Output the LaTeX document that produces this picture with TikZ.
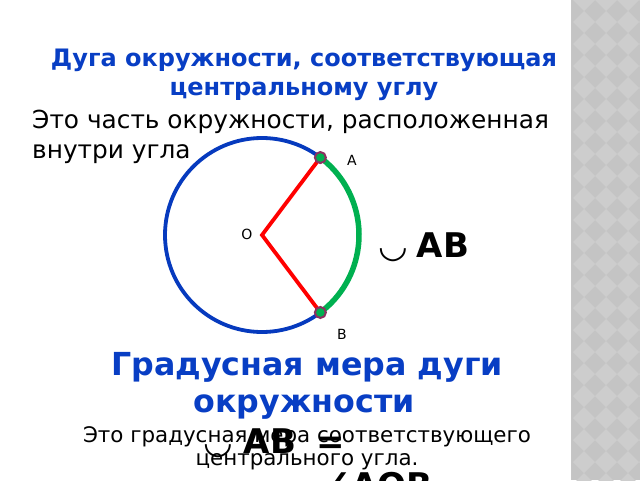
\documentclass[tikz,border=0pt]{standalone}
\usepackage{fontspec}
\setmainfont{DejaVu Sans}
\usepackage{tikz}

\definecolor{titleblue}{RGB}{8,62,196}
\definecolor{circblue}{RGB}{6,58,190}
\definecolor{arcgreen}{RGB}{0,176,80}
\definecolor{dotrim}{RGB}{140,48,96}
\definecolor{stripgray}{RGB}{196,196,196}
\definecolor{diagray}{RGB}{205,205,205}

\begin{document}
\begin{tikzpicture}[x=1pt, y=-1pt, every node/.style={inner sep=0pt},
                    head/.style={text=titleblue, anchor=base,
                            font=\bfseries\fontsize{24}{24}\selectfont},
                    headbig/.style={text=titleblue, anchor=base,
                            font=\bfseries\fontsize{31.7}{31.7}\selectfont},
                    body/.style={anchor=base west,
                            font=\fontsize{24.8}{24.8}\selectfont},
                    note/.style={anchor=base,
                            font=\fontsize{21.4}{21.4}\selectfont},
                    big/.style={anchor=base west,
                            font=\bfseries\fontsize{34}{34}\selectfont},
                    lbl/.style={font=\fontsize{14}{14}\selectfont},
                    pt/.style={circle, fill=arcgreen, draw=dotrim,
                            line width=2pt, minimum size=11pt}]
    \useasboundingbox (0,0) rectangle (640,480);
    \fill[white] (0,0) rectangle (640,480);

    % side strip
    \begin{scope}
        \clip (571,0) rectangle (640,480);
        \fill[stripgray] (571,0) rectangle (640,480);
        \foreach \i in {0,...,3} {
                \foreach \j in {0,...,22} {
                        \fill[diagray] (584+22*\i, 22*\j) ++(-11,0) -- ++(11,-11)
                            -- ++(11,11) -- ++(-11,11) -- cycle;
                    }
            }
    \end{scope}
    \draw[gray!45, line width=1pt] (571,0) -- (571,480);

    % texts
    \node[head] (T1) at (304,66) {Дуга окружности, соответствующая};
    \node[head] (T2) at (304,95) {центральному углу};
    \node[body] (S1) at (32,128) {Это часть окружности, расположенная};
    \node[body] (S2) at (32,158) {внутри угла};

    % circle
    \coordinate (O) at (262,235);
    \path (O) ++(-53:97) coordinate (A);
    \path (O) ++(53:97) coordinate (B);
    \draw[circblue, line width=3.8pt] (O) circle (97);
    \draw[arcgreen, line width=5.5pt] (O) ++(-53:97) arc (-53:53:97);
    \draw[red, line width=3.8pt] (A) -- (O) -- (B);
    \node[pt] (PA) at (A) {};
    \node[pt] (PB) at (B) {};
    \node[lbl] (LA) at (352,160) {A};
    \node[lbl] (LO) at (247,234) {O};
    \node[lbl] (LB) at (342,334) {B};
    \node[big] (ArcAB) at (378,257) {{\mdseries ◡}\hspace{9pt}AB};

    % degree measure
    \node[headbig] (H1) at (307,375) {Градусная мера дуги};
    \node[headbig] (H2) at (304,412) {окружности};
    \node[note] (N1) at (307,442) {Это градусная мера соответствующего};
    \node[note] (N2) at (307,465) {центрального угла.};
    \node[big] (Eq) at (203,453) {{\mdseries ◡}\hspace{11pt}AB\hspace{20pt}=};
    \node[big] (Ang) at (321,497) {∠AOB};
\end{tikzpicture}
\end{document}
